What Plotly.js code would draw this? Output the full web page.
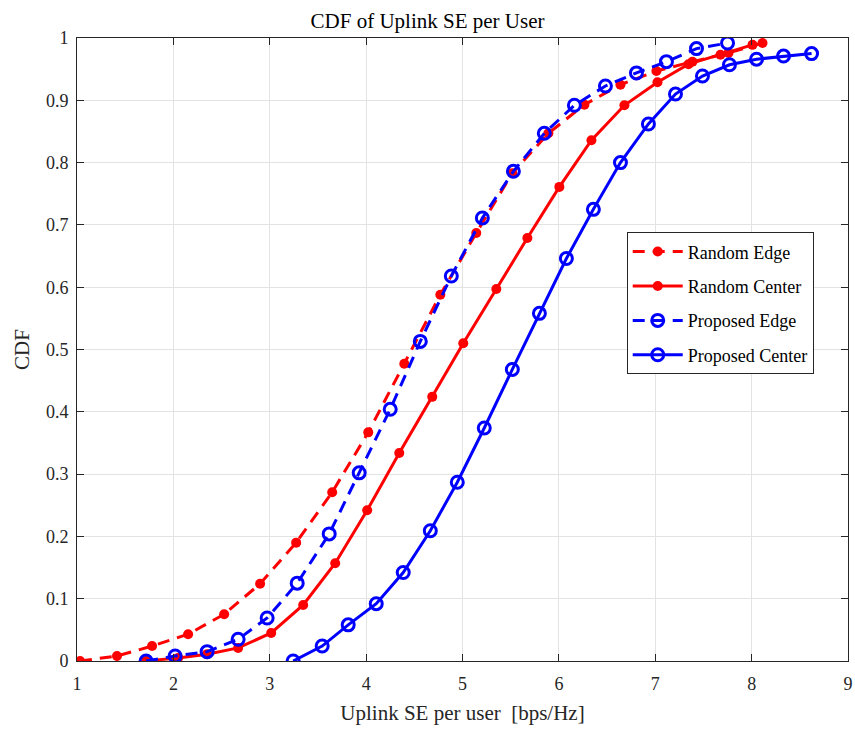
<!DOCTYPE html>
<html>
<head>
<meta charset="utf-8">
<script src="https://cdn.plot.ly/plotly-3.0.1.min.js"></script>
<style>html,body{margin:0;padding:0;background:#fff;}#chart{width:855px;height:729px;}</style>
</head>
<body>
<div id="chart"></div>
<script>
// Data
const randomEdgeX = [1.031, 1.415, 1.779, 2.153, 2.527, 2.900, 3.274, 3.648, 4.022, 4.396, 4.770, 5.143, 5.517, 5.891, 6.265, 6.639, 7.012, 7.386, 7.760, 8.113];
const randomEdgeY = [0, 0.008, 0.024, 0.043, 0.075, 0.124, 0.190, 0.271, 0.367, 0.477, 0.588, 0.687, 0.783, 0.847, 0.893, 0.925, 0.947, 0.962, 0.976, 0.992];

const randomCenterX = [1.717, 2.049, 2.350, 2.672, 3.015, 3.347, 3.679, 4.011, 4.344, 4.686, 5.008, 5.351, 5.673, 6.005, 6.338, 6.680, 7.023, 7.345, 7.677, 8.009];
const randomCenterY = [0, 0.005, 0.011, 0.021, 0.045, 0.090, 0.157, 0.242, 0.334, 0.424, 0.510, 0.597, 0.679, 0.761, 0.836, 0.892, 0.929, 0.958, 0.973, 0.989];

const proposedEdgeX = [1.717, 2.018, 2.350, 2.672, 2.973, 3.285, 3.617, 3.928, 4.250, 4.562, 4.884, 5.206, 5.528, 5.849, 6.161, 6.483, 6.805, 7.116, 7.428, 7.750];
const proposedEdgeY = [0, 0.008, 0.015, 0.035, 0.069, 0.125, 0.204, 0.302, 0.404, 0.513, 0.618, 0.711, 0.786, 0.847, 0.892, 0.923, 0.944, 0.962, 0.983, 0.992];

const proposedCenterX = [3.243, 3.544, 3.814, 4.105, 4.385, 4.666, 4.946, 5.226, 5.517, 5.798, 6.078, 6.358, 6.639, 6.929, 7.210, 7.490, 7.770, 8.051, 8.331, 8.622];
const proposedCenterY = [0, 0.024, 0.058, 0.092, 0.142, 0.209, 0.287, 0.374, 0.468, 0.558, 0.646, 0.725, 0.800, 0.862, 0.910, 0.939, 0.957, 0.966, 0.971, 0.975];

const seriesNames = ["Random Edge", "Random Center", "Proposed Edge", "Proposed Center"];
const xTickVals = [1, 2, 3, 4, 5, 6, 7, 8, 9];
const yTickVals = [0, 0.1, 0.2, 0.3, 0.4, 0.5, 0.6, 0.7, 0.8, 0.9, 1];
const yTickText = ["0", "0.1", "0.2", "0.3", "0.4", "0.5", "0.6", "0.7", "0.8", "0.9", "1"];

const RED = "#ff0000", BLUE = "#0000ff";
const DASH = "12px,8px";

const traces = [
  {x: randomEdgeX, y: randomEdgeY, name: seriesNames[0], legendgroup: "g1", mode: "lines+markers",
   line: {color: RED, width: 3, dash: DASH},
   marker: {symbol: "circle", size: 10, color: RED}},
  {x: randomCenterX, y: randomCenterY, name: seriesNames[1], legendgroup: "g2", mode: "lines+markers",
   line: {color: RED, width: 3},
   marker: {symbol: "circle", size: 10, color: RED}},
  {x: proposedEdgeX, y: proposedEdgeY, name: seriesNames[2], legendgroup: "g3", mode: "lines+markers",
   line: {color: BLUE, width: 3, dash: DASH},
   marker: {symbol: "circle-open", size: 12, color: BLUE, line: {width: 3, color: BLUE}}},
  {x: proposedCenterX, y: proposedCenterY, name: seriesNames[3], legendgroup: "g4", mode: "lines+markers",
   line: {color: BLUE, width: 3},
   marker: {symbol: "circle-open", size: 12, color: BLUE, line: {width: 3, color: BLUE}}}
];

const FONT = "'Liberation Serif', 'Times New Roman', serif";

const layout = {
  width: 855, height: 729,
  margin: {l: 77, r: 7, t: 38, b: 68},
  paper_bgcolor: "#ffffff", plot_bgcolor: "#ffffff",
  font: {family: FONT, size: 18, color: "#262626"},
  title: {text: "CDF of Uplink SE per User", font: {family: FONT, size: 21, color: "#000"},
          x: 0.5, xanchor: "center", y: 0.972, yanchor: "middle"},
  xaxis: {
    range: [1, 9], tickvals: xTickVals, ticktext: xTickVals.map(String),
    showgrid: true, gridcolor: "#e3e3e3", gridwidth: 1,
    showline: true, linecolor: "#262626", linewidth: 1, mirror: "ticks",
    ticks: "inside", ticklen: 7, tickcolor: "#262626", ticklabelstandoff: 6,
    zeroline: false, tickfont: {family: FONT, size: 18, color: "#262626"},
    title: {text: "Uplink SE per user&nbsp; [bps/Hz]", font: {family: FONT, size: 21, color: "#262626"}, standoff: 12}
  },
  yaxis: {
    range: [0, 1], tickvals: yTickVals, ticktext: yTickText,
    showgrid: true, gridcolor: "#e3e3e3", gridwidth: 1,
    showline: true, linecolor: "#262626", linewidth: 1, mirror: "ticks",
    ticks: "inside", ticklen: 7, tickcolor: "#262626", ticklabelstandoff: 4,
    zeroline: false, tickfont: {family: FONT, size: 18, color: "#262626"},
    title: {text: "CDF", font: {family: FONT, size: 21, color: "#262626"}, standoff: 10}
  },
  showlegend: true,
  legend: {
    x: 0.713, y: 0.688, xanchor: "left", yanchor: "top",
    bgcolor: "#ffffff", bordercolor: "#262626", borderwidth: 1,
    font: {family: FONT, size: 18, color: "#000"},
    itemwidth: 50, tracegroupgap: 8
  }
};

Plotly.newPlot("chart", traces, layout, {displayModeBar: false, staticPlot: true});
</script>
</body>
</html>
